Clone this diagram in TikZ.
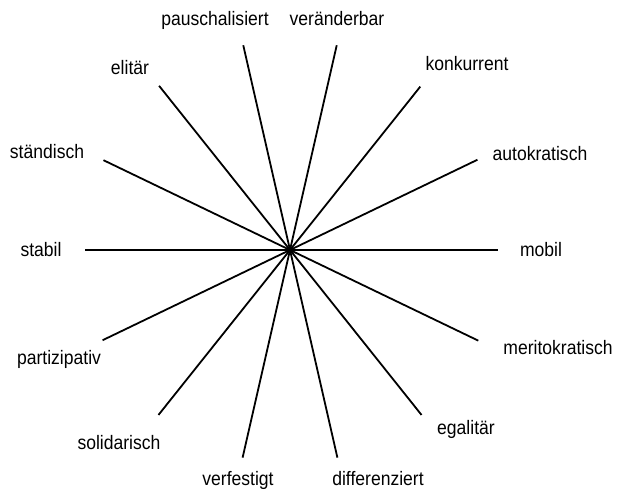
\documentclass[tikz,border=0pt]{standalone}
\usepackage{fontspec}
\setmainfont[FakeStretch=0.9]{Liberation Sans}
\usepackage{tikz}

\begin{document}
\begin{tikzpicture}[x=1pt,y=1pt]
\tikzstyle{ray}=[line width=1.8pt]
\tikzstyle{word}=[anchor=base,inner sep=0pt,font=\fontsize{19.5}{22}\selectfont]
\useasboundingbox (0,0) rectangle (619,492);
\coordinate (m) at (290,242);
\path (m) ++(0:208) coordinate (e-mobil);
\path (m) ++(25.71:208) coordinate (e-auto);
\path (m) ++(51.43:209) coordinate (e-konk);
\path (m) ++(77.14:210) coordinate (e-ver);
\path (m) ++(102.86:210) coordinate (e-pau);
\path (m) ++(128.57:210) coordinate (e-eli);
\path (m) ++(154.29:207) coordinate (e-sta);
\path (m) ++(180:205) coordinate (e-stab);
\path (m) ++(205.71:208) coordinate (e-part);
\path (m) ++(231.43:211) coordinate (e-soli);
\path (m) ++(257.14:213) coordinate (e-verf);
\path (m) ++(282.86:213) coordinate (e-diff);
\path (m) ++(308.57:211) coordinate (e-ega);
\path (m) ++(334.29:209) coordinate (e-meri);
\draw [ray] (m) -- (e-mobil);
\draw [ray] (m) -- (e-auto);
\draw [ray] (m) -- (e-konk);
\draw [ray] (m) -- (e-ver);
\draw [ray] (m) -- (e-pau);
\draw [ray] (m) -- (e-eli);
\draw [ray] (m) -- (e-sta);
\draw [ray] (m) -- (e-stab);
\draw [ray] (m) -- (e-part);
\draw [ray] (m) -- (e-soli);
\draw [ray] (m) -- (e-verf);
\draw [ray] (m) -- (e-diff);
\draw [ray] (m) -- (e-ega);
\draw [ray] (m) -- (e-meri);
\node [word] (mobil) at (541,235) {mobil};
\node [word] (auto) at (540,331) {autokratisch};
\node [word] (konk) at (467,421) {konkurrent};
\node [word] (ver) at (337,466) {veränderbar};
\node [word] (pau) at (215,466) {pauschalisiert};
\node [word] (eli) at (130,417) {elitär};
\node [word] (sta) at (47,333) {ständisch};
\node [word] (stab) at (41,235) {stabil};
\node [word] (part) at (59,127) {partizipativ};
\node [word] (soli) at (119,42) {solidarisch};
\node [word] (verf) at (238,6) {verfestigt};
\node [word] (diff) at (378,6) {differenziert};
\node [word] (ega) at (466,57) {egalitär};
\node [word] (meri) at (558,137) {meritokratisch};
\end{tikzpicture}
\end{document}
